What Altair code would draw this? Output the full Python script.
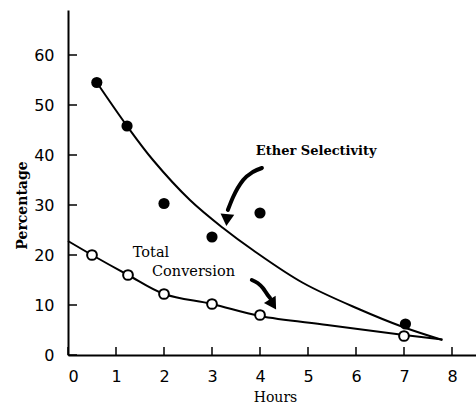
import altair as alt
import pandas as pd

# Measured points
ether_x = [0.6, 1.23, 2.0, 3.0, 4.0, 7.03]
ether_y = [54.5, 45.8, 30.3, 23.6, 28.4, 6.2]
conv_x = [0.5, 1.25, 2.0, 3.0, 4.0, 7.0]
conv_y = [20.0, 16.0, 12.2, 10.2, 8.0, 3.8]

# Fitted curves
ether_curve_x = [0.6, 1.23, 1.77, 2.54, 3.23, 3.85, 4.9, 6.08, 6.98, 7.8]
ether_curve_y = [54.5, 45.8, 39.0, 31.0, 25.4, 21.0, 14.4, 9.1, 5.6, 3.0]
conv_curve_x = [0.0, 0.5, 1.25, 2.0, 3.0, 4.0, 5.4, 7.0, 7.8]
conv_curve_y = [22.8, 20.0, 16.0, 12.2, 10.2, 7.8, 6.0, 4.0, 3.1]

# Annotation arrows (data coordinates)
arrow1_x = [4.04, 3.85, 3.65, 3.44, 3.33]
arrow1_y = [37.4, 36.6, 35.0, 31.6, 29.0]
arrow2_x = [3.83, 3.95, 4.06, 4.16, 4.21]
arrow2_y = [15.0, 14.4, 13.4, 12.0, 11.4]
head_x = [3.31, 4.27]
head_y = [27.0, 10.1]
head_angle = [5, 328]

x_ticks = [0, 1, 2, 3, 4, 5, 6, 7, 8]
y_ticks = [0, 10, 20, 30, 40, 50, 60]

label_text = ["Ether Selectivity", "Total", "Conversion"]
label_x = [5.17, 1.35, 1.75]
label_y = [40.8, 20.4, 16.6]
label_align = ["center", "left", "left"]

X_DOM = [0, 8.5]
Y_DOM = [0, 69]

xs = alt.Scale(domain=X_DOM, nice=False, zero=False)
ys = alt.Scale(domain=Y_DOM, nice=False, zero=False)

xaxis = alt.Axis(values=x_ticks, tickSize=0, labelFont="DejaVu Sans", labelFontSize=16,
                 labelColor="black", labelPadding=13, domainColor="black", domainWidth=2,
                 grid=False, title="Hours", titleFont="DejaVu Serif", titleFontSize=14,
                 titleFontWeight="normal", titleColor="black", titleX=207, titleY=42,
                 titleBaseline="middle", titleAlign="center")
yaxis = alt.Axis(values=y_ticks, tickSize=0, labelFont="DejaVu Sans", labelFontSize=16,
                 labelColor="black", labelPadding=14, domainColor="black", domainWidth=2,
                 grid=False, title="Percentage", titleFont="DejaVu Serif", titleFontSize=14,
                 titleFontWeight="bold", titleColor="black", titleX=-46, titleY=195,
                 titleBaseline="middle", titleAlign="center", titleAngle=270)

curves = pd.DataFrame({
    "x": ether_curve_x + conv_curve_x,
    "y": ether_curve_y + conv_curve_y,
    "s": ["ether"] * len(ether_curve_x) + ["conv"] * len(conv_curve_x),
})
base_line = alt.Chart(curves).mark_line(color="black", strokeWidth=2, interpolate="catmull-rom").encode(
    x=alt.X("x:Q", scale=xs, axis=xaxis),
    y=alt.Y("y:Q", scale=ys, axis=yaxis),
    detail="s:N",
)

ether_df = pd.DataFrame({"x": ether_x, "y": ether_y})
ether_pts = alt.Chart(ether_df).mark_point(shape="circle", filled=True, color="black", size=125, opacity=1).encode(
    x=alt.X("x:Q", scale=xs), y=alt.Y("y:Q", scale=ys))

conv_df = pd.DataFrame({"x": conv_x, "y": conv_y})
conv_pts = alt.Chart(conv_df).mark_point(shape="circle", filled=True, fill="white", stroke="black",
                                         strokeWidth=2, size=95, opacity=1).encode(
    x=alt.X("x:Q", scale=xs), y=alt.Y("y:Q", scale=ys))

arrows = pd.DataFrame({
    "x": arrow1_x + arrow2_x,
    "y": arrow1_y + arrow2_y,
    "a": ["a1"] * len(arrow1_x) + ["a2"] * len(arrow2_x),
    "o": list(range(len(arrow1_x))) + list(range(len(arrow2_x))),
})
arrow_lines = alt.Chart(arrows).mark_line(color="black", strokeWidth=4, interpolate="monotone",
                                          strokeCap="round").encode(
    x=alt.X("x:Q", scale=xs), y=alt.Y("y:Q", scale=ys), detail="a:N", order="o:Q")

heads = pd.DataFrame({"x": head_x, "y": head_y, "ang": head_angle})
arrow_heads = alt.Chart(heads).mark_point(shape="triangle-down", filled=True, color="black",
                                          size=190, opacity=1).encode(
    x=alt.X("x:Q", scale=xs), y=alt.Y("y:Q", scale=ys),
    angle=alt.Angle("ang:Q", scale=None))

labels = pd.DataFrame({"t": label_text, "x": label_x, "y": label_y, "al": label_align})
text_c = alt.Chart(labels[labels.al == "center"]).mark_text(font="DejaVu Serif", fontSize=13,
                                                            fontWeight="bold", align="center",
                                                            baseline="middle", color="black").encode(
    x=alt.X("x:Q", scale=xs), y=alt.Y("y:Q", scale=ys), text="t:N")
text_l = alt.Chart(labels[labels.al == "left"]).mark_text(font="DejaVu Serif", fontSize=14.5,
                                                          align="left", baseline="middle",
                                                          color="black").encode(
    x=alt.X("x:Q", scale=xs), y=alt.Y("y:Q", scale=ys), text="t:N")

xt = pd.DataFrame({"v": x_ticks})
x_tick_marks = alt.Chart(xt).mark_rule(color="black", strokeWidth=1.5).encode(
    x=alt.X("v:Q", scale=xs), y=alt.value(345), y2=alt.value(337))
yt = pd.DataFrame({"v": y_ticks})
y_tick_marks = alt.Chart(yt).mark_rule(color="black", strokeWidth=1.5).encode(
    y=alt.Y("v:Q", scale=ys), x=alt.value(0), x2=alt.value(9))

chart = alt.layer(base_line, arrow_lines, arrow_heads, ether_pts, conv_pts, text_c, text_l,
                  x_tick_marks, y_tick_marks).properties(
    width=408, height=345,
    autosize=alt.AutoSizeParams(type="none"),
    padding={"left": 68, "top": 10, "right": 0, "bottom": 51},
    background="white",
).configure_view(stroke=None)

chart.save("out.html", embed_options={"renderer": "svg", "actions": False})
